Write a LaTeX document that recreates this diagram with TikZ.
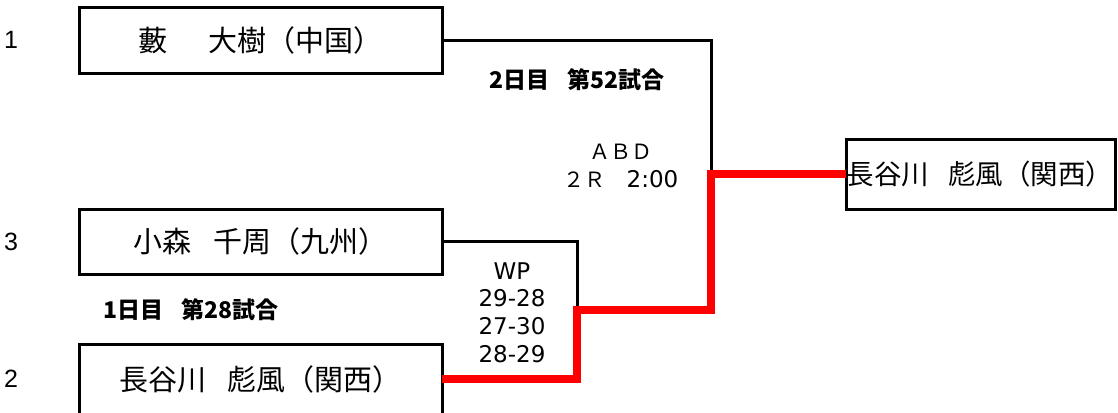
\documentclass[tikz,border=0pt]{standalone}
\usepackage{fontspec}
\setmainfont{Liberation Sans}
\newfontfamily\jp{Noto Sans CJK JP}
\newfontfamily\dv{DejaVu Sans}
\begin{document}
\begin{tikzpicture}[x=1pt,y=-1pt,
  namebox/.style={draw, line width=3pt, minimum width=363pt, minimum height=65pt, inner sep=0pt, outer sep=0pt, font=\jp\fontsize{29}{32}\selectfont},
  conn/.style={line width=3pt, line join=miter},
  winline/.style={line width=8pt, draw=red, line join=miter},
  seed/.style={font=\fontsize{25}{28}\selectfont, inner sep=0pt},
  game/.style={font=\jp\bfseries\fontsize{23}{26}\selectfont, inner sep=0pt},
  score/.style={font=\dv\fontsize{23}{27.7}\selectfont, align=center, inner sep=0pt}
]
\useasboundingbox (0,0) rectangle (1118,412);
\fill[white] (0,0) rectangle (1118,412);

% boxes
\node[namebox] (b1) at (260.5,40.5) {藪\hspace{1.4em}大樹（中国）};
\node[namebox] (b3) at (260.5,241.5) {小森\hspace{0.75em}千周（九州）};
\node[namebox, minimum height=70pt] (b2) at (260.5,379) {長谷川\hspace{0.7em}彪風（関西）};
\node[draw, line width=3pt, minimum width=269pt, minimum height=70pt, inner xsep=0.5pt, inner ysep=0pt, outer sep=0pt,
      font=\jp\fontsize{27.5}{32}\selectfont] (w) at (980.5,174) {\makebox[268pt][l]{長谷川\hspace{0.7em}彪風（関西）}};

% seeds
\node[seed] (s1) at (11,40) {1};
\node[seed] (s3) at (11,242) {3};
\node[seed] (s2) at (11,379) {2};

% connector points
\coordinate (m1) at (577,310);
\coordinate (m2) at (711,174);

\draw[conn] (b1.east) -| (m2);
\draw[conn] (b3.east) -| (m1);
\draw[winline] (b2.east) -| (m1) -| (m2) -- (w.west);

% labels
\node[game] (g2) at (577,80) {2日目\hspace{0.8em}第52試合};
\node[game] (g1) at (191,310) {1日目\hspace{0.8em}第28試合};
\node[score] (r2) at (621,166) {{\jp\fontsize{21}{27.7}\selectfont ＡＢＤ}\\{\jp\fontsize{21}{27.7}\selectfont ２Ｒ　}2:00};
\node[score] (r1) at (512,312.5) {WP\\29-28\\27-30\\28-29};
\end{tikzpicture}
\end{document}
